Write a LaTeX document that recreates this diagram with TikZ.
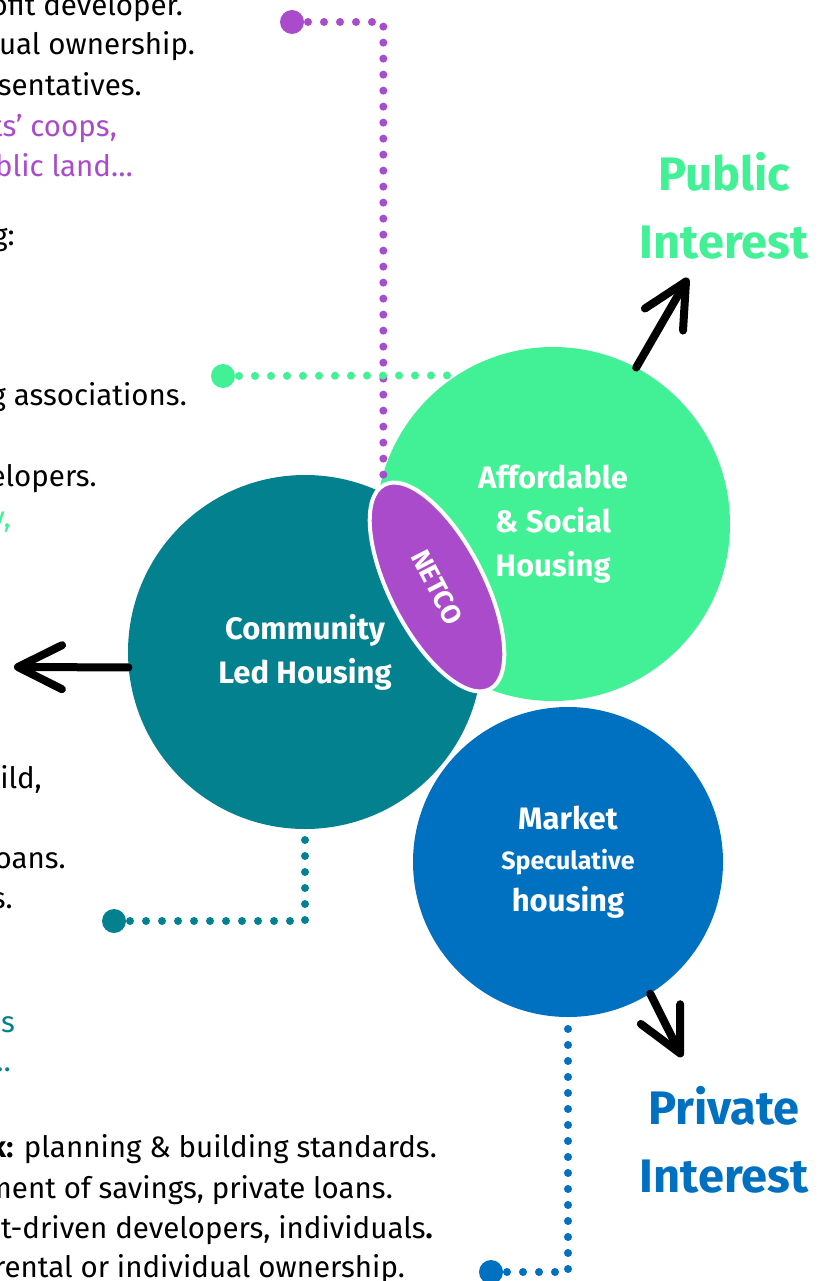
\documentclass[tikz,border=0pt]{standalone}
\usepackage{fontspec}
\setmainfont{Fira Sans}
\usetikzlibrary{arrows.meta,shapes.geometric}

\definecolor{clhteal}{HTML}{03818F}
\definecolor{ashgreen}{HTML}{42F096}
\definecolor{mshblue}{HTML}{0070C0}
\definecolor{netcopurple}{HTML}{AA4BCC}

\tikzset{
  sector/.style={circle, inner sep=0pt, text=white, align=center,
    font=\fontsize{31}{44}\selectfont\bfseries},
  leader/.style={line width=8pt, line cap=round, dash pattern=on 0pt off 16pt},
  enddot/.style={circle, fill, inner sep=0pt, minimum size=24pt},
  interest/.style={-{Straight Barb[length=44pt,width=44pt,round]}, line width=8pt, line cap=round},
  body/.style={anchor=base east, inner sep=0pt, font=\fontsize{29.5}{40}\selectfont},
  pole/.style={align=center, font=\fontsize{47}{68}\selectfont\bfseries}
}

\begin{document}
\begin{tikzpicture}[x=1pt,y=-1pt]
  \useasboundingbox (0,0) rectangle (827,1281);

  \node[body] (t1) at (183,16) {ofit developer.};
  \node[body] (t2) at (195,55) {ual ownership.};
  \node[body] (t3) at (142,96) {sentatives.};
  \node[body, text=netcopurple] (t4) at (117,137) {ts’ coops,};
  \node[body, text=netcopurple] (t5) at (133,177) {blic land…};
  \node[body] (t6) at (15,246) {g:};
  \node[body] (t7) at (187,405) {g associations.};
  \node[body] (t8) at (97,486) {elopers.};
  \node[body, text=ashgreen] (t9) at (11,527) {y,};
  \node[body] (t10) at (42,788) {ild,};
  \node[body] (t11) at (66,868) {oans.};
  \node[body] (t12) at (13,908) {s.};
  \node[body, text=clhteal] (t13) at (15,1032) {s};
  \node[body, text=clhteal] (t14) at (11,1071) {…};
  \node[body] (t15) at (437,1157) {\textbf{k:} planning \& building standards.};
  \node[body] (t16) at (393,1198) {ment of savings, private loans.};
  \node[body] (t17) at (433,1238) {t-driven developers, individuals\textbf{.}};
  \node[body] (t18) at (405,1277) {rental or individual ownership.};

  \node[sector, fill=clhteal, minimum size=354pt] (clh) at (305,652) {Community\\Led Housing};
  \node[sector, fill=ashgreen, minimum size=354pt] (ash) at (553,524) {Affordable\\\& Social\\Housing};
  \node[sector, fill=mshblue, minimum size=310pt] (msh) at (568,862)
    {Market\\[-4pt]{\fontsize{25}{30}\selectfont Speculative}\\[-2pt]housing};
  \node[ellipse, fill=netcopurple, draw=white, line width=4pt, inner sep=0pt,
    minimum width=230pt, minimum height=94pt, rotate=-62.7, text=white,
    font=\fontsize{27}{30}\selectfont\bfseries] (netco) at (437,587) {NETCO};

  \node[pole, text=ashgreen] (pub) at (724,206) {Public\\Interest};
  \node[pole, text=mshblue] (priv) at (724,1140) {Private\\Interest};

  \node[enddot, netcopurple] (pdot) at (292,22) {};
  \node[enddot, ashgreen] (gdot) at (223,376) {};
  \node[enddot, clhteal] (tdot) at (114,921) {};
  \node[enddot, mshblue] (bdot) at (491,1272) {};
  \draw[leader, netcopurple] (pdot.center) -| (netco.west);
  \draw[leader, ashgreen] (gdot.center) -- (ash.123);
  \draw[leader, clhteal] (tdot.center) -| (clh.south);
  \draw[leader, mshblue] (bdot.center) -| (msh.south);

  \coordinate (cltip) at (14,667);
  \coordinate (pubtip) at (688,278);
  \coordinate (privtip) at (682,1057);
  \draw[interest] (clh.185) -- (cltip);
  \draw[interest] (ash.62) -- (pubtip);
  \draw[interest] (msh.-58) -- (privtip);
\end{tikzpicture}
\end{document}
